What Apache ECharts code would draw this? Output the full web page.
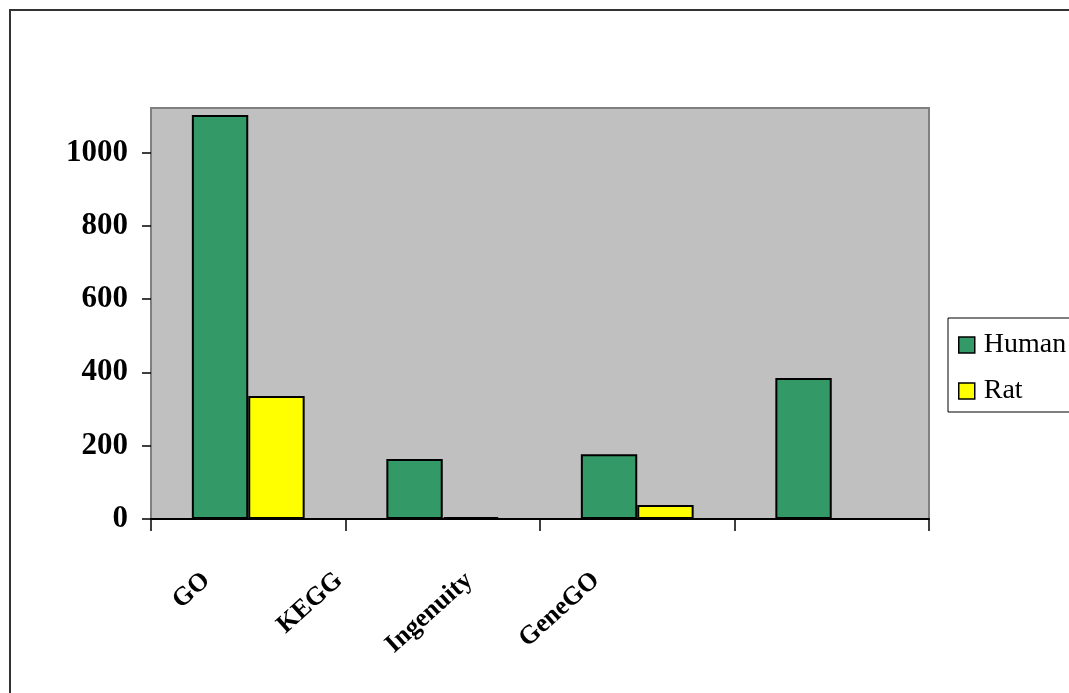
<!DOCTYPE html>
<html>
<head>
<meta charset="utf-8">
<script src="https://cdn.jsdelivr.net/npm/echarts@6/dist/echarts.min.js"></script>
<style>
html,body{margin:0;padding:0;background:#fff;}
#chart{width:1069px;height:693px;}
</style>
</head>
<body>
<div id="chart"></div>
<script>
const categories = ['GO', 'KEGG', 'Ingenuity', 'GeneGO'];
const humanValues = [1103, 164, 177, 385];
const ratValues = [336, 5, 38, 0];
const yTicks = [0, 200, 400, 600, 800, 1000];

const chart = echarts.init(document.getElementById('chart'));
const serif = '"Liberation Serif", "Times New Roman", serif';

// Label styling: the original draws its rotated category labels shifted left of
// their categories; emulate with per-label rich padding (style only).
const LABEL_ROT = 42;
const labelShiftX = [-42, -104, -168, -236];
const rad = LABEL_ROT * Math.PI / 180;
const rich = {};
labelShiftX.forEach(function (dx, i) {
  rich['c' + i] = {
    fontFamily: serif, fontSize: 26, fontWeight: 'bold', color: '#000',
    padding: [0, Math.round(-dx * Math.cos(rad)), Math.round(-2 * dx * Math.sin(rad)), 0]
  };
});

chart.setOption({
  animation: false,
  backgroundColor: '#fff',
  graphic: [{
    type: 'rect',
    shape: { x: 10, y: 10, width: 1100, height: 800 },
    style: { fill: 'none', stroke: '#333', lineWidth: 2 },
    silent: true
  }],
  grid: {
    left: 151, top: 108, right: 140, bottom: 174,
    show: true, backgroundColor: '#c0c0c0', borderColor: '#808080', borderWidth: 2
  },
  legend: {
    orient: 'vertical',
    left: 948, top: 318,
    padding: [13, 40, 7, 10],
    itemGap: 18,
    itemWidth: 16, itemHeight: 16,
    borderColor: '#000', borderWidth: 1, backgroundColor: '#fff',
    icon: 'rect',
    itemStyle: { borderColor: '#000', borderWidth: 1.5 },
    textStyle: { fontFamily: serif, fontSize: 28, color: '#000', padding: [0, 0, 0, 4] },
    data: ['Human', 'Rat']
  },
  xAxis: {
    type: 'category',
    data: categories,
    axisLine: { lineStyle: { color: '#000', width: 2 } },
    axisTick: { show: true, length: 12, lineStyle: { color: '#000', width: 1.5 } },
    axisLabel: {
      interval: 0, rotate: LABEL_ROT, margin: 58,
      fontFamily: serif, fontSize: 26, fontWeight: 'bold', color: '#000',
      formatter: function (v, i) { return '{c' + i + '|' + v + '}'; },
      rich: rich
    }
  },
  yAxis: {
    type: 'value',
    min: 0, max: 1122, interval: 200,
    splitLine: { show: false },
    axisLine: { show: true, lineStyle: { color: '#808080', width: 2 } },
    axisTick: { show: true, length: 9, lineStyle: { color: '#000', width: 1.5 } },
    axisLabel: {
      showMaxLabel: false, margin: 23,
      fontFamily: serif, fontSize: 31, fontWeight: 'bold', color: '#000',
      formatter: function (v) { return yTicks.indexOf(v) >= 0 ? String(v) : ''; }
    }
  },
  series: [
    {
      name: 'Human', type: 'bar', data: humanValues,
      barGap: '0%', barCategoryGap: '42%',
      itemStyle: { color: '#339966', borderColor: '#000', borderWidth: 2 }
    },
    {
      name: 'Rat', type: 'bar', data: ratValues,
      itemStyle: { color: '#ffff00', borderColor: '#000', borderWidth: 2 }
    }
  ]
});
</script>
</body>
</html>
